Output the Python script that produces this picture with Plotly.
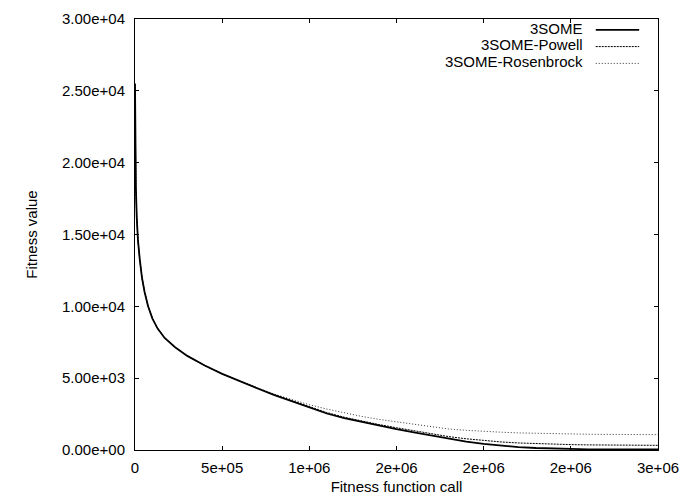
import plotly.graph_objects as go

# ---- data ----
calls = [0, 2000, 5000, 10000, 17000, 27000, 40000, 55000, 75000, 100000,
         130000, 170000, 230000, 300000, 400000, 500000,
         600000, 700000, 800000, 900000, 1000000, 1100000, 1200000, 1300000,
         1400000, 1500000, 1600000, 1700000, 1800000, 1900000, 2000000,
         2100000, 2200000, 2300000, 2400000, 2500000, 2600000, 2800000, 3000000]

fitness_3some = [25500, 21000, 18300, 16200, 14600, 13300, 12000, 11000, 10000, 9150,
                 8450, 7800, 7150, 6550, 5880, 5300,
                 4780, 4300, 3820, 3380, 2950, 2540, 2220, 1950,
                 1700, 1450, 1230, 1000, 780, 590, 420,
                 300, 200, 140, 95, 65, 50, 40, 35]

fitness_powell = [25500, 21000, 18300, 16200, 14600, 13300, 12000, 11000, 10000, 9150,
                  8450, 7800, 7150, 6550, 5880, 5300,
                  4790, 4320, 3850, 3420, 3000, 2610, 2280, 2000,
                  1770, 1550, 1330, 1120, 930, 780, 650,
                  560, 490, 440, 400, 375, 355, 335, 325]

fitness_rosenbrock = [25500, 21000, 18300, 16200, 14600, 13300, 12000, 11000, 10000, 9150,
                      8450, 7800, 7150, 6550, 5880, 5300,
                      4800, 4340, 3880, 3500, 3150, 2850, 2580, 2340,
                      2130, 1950, 1780, 1620, 1460, 1370, 1290,
                      1240, 1190, 1160, 1130, 1110, 1095, 1080, 1070]

x_tickvals = [0, 500000, 1000000, 1500000, 2000000, 2500000, 3000000]
x_ticktext = ["0", "5e+05", "1e+06", "2e+06", "2e+06", "2e+06", "3e+06"]
y_tickvals = [0, 5000, 10000, 15000, 20000, 25000, 30000]
y_ticktext = ["0.00e+00", "5.00e+03", "1.00e+04", "1.50e+04", "2.00e+04", "2.50e+04", "3.00e+04"]

series_names = ["3SOME", "3SOME-Powell", "3SOME-Rosenbrock"]

FONT = "Liberation Sans, Arial, Helvetica, sans-serif"
FS = 15
styles = {
    "3SOME": dict(color="black", width=1.8, dash="solid"),
    "3SOME-Powell": dict(color="black", width=1, dash="2px,1px"),
    "3SOME-Rosenbrock": dict(color="#333333", width=1, dash="1px,2px"),
}

fig = go.Figure()
fig.add_trace(go.Scatter(x=calls, y=fitness_rosenbrock, mode="lines", name=series_names[2],
                         line=styles[series_names[2]], showlegend=False))
fig.add_trace(go.Scatter(x=calls, y=fitness_powell, mode="lines", name=series_names[1],
                         line=styles[series_names[1]], showlegend=False))
fig.add_trace(go.Scatter(x=calls, y=fitness_3some, mode="lines", name=series_names[0],
                         line=styles[series_names[0]], showlegend=False))

# manual gnuplot-style key: right-aligned text, sample line to the right
key_rows_y = [0.979, 0.940, 0.901]
for name, yy in zip(series_names, key_rows_y):
    fig.add_annotation(xref="paper", yref="paper", x=0.861, y=yy, text=name,
                       showarrow=False, xanchor="right", yanchor="middle",
                       font=dict(family=FONT, size=FS, color="black"))
    st = styles[name]
    fig.add_shape(type="line", xref="paper", yref="paper", x0=0.881, x1=0.964,
                  y0=yy - 0.004, y1=yy - 0.004,
                  line=dict(color=st["color"], width=st["width"], dash=st["dash"]))

axis_common = dict(showline=True, linecolor="black", linewidth=1, mirror="ticks",
                   ticks="inside", ticklen=4, tickwidth=1, tickcolor="black",
                   showgrid=False, zeroline=False, automargin=False,
                   tickfont=dict(family=FONT, size=FS, color="black"))

fig.update_layout(
    template="none",
    width=689, height=496,
    margin=dict(l=127, r=39, t=11, b=54, autoexpand=False),
    paper_bgcolor="white", plot_bgcolor="white",
    font=dict(family=FONT, size=FS, color="black"),
    xaxis=dict(range=[0, 3000000], tickvals=x_tickvals, ticktext=x_ticktext,
               title=dict(text="Fitness function call", standoff=6,
                          font=dict(family=FONT, size=FS)),
               ticklabelstandoff=4, **axis_common),
    yaxis=dict(range=[0, 30000], tickvals=y_tickvals, ticktext=y_ticktext,
               title=dict(text="Fitness value", standoff=20,
                          font=dict(family=FONT, size=FS)),
               ticklabelstandoff=6, **axis_common),
)

fig.write_html("out.html")
